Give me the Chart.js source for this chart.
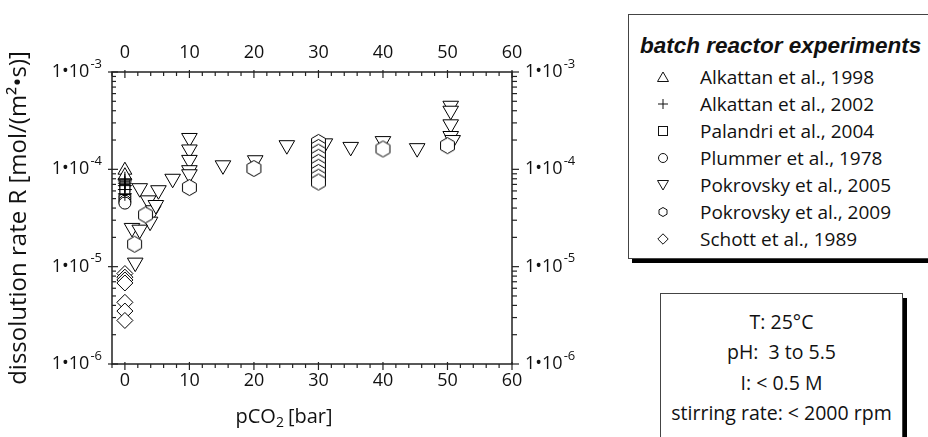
<!DOCTYPE html>
<html>
<head>
<meta charset="utf-8">
<script src="https://cdn.jsdelivr.net/npm/chart.js@4.4.1/dist/chart.umd.min.js"></script>
<style>
  html, body { margin: 0; overflow: hidden; background: #fff; }
  #page { position: relative; width: 928px; height: 437px; overflow: hidden; font-family: "Open Sans", sans-serif; color: #111; }
  #plot { position: absolute; left: 0; top: 0; width: 620px; height: 437px; }
  .legend { position: absolute; left: 628px; top: 14px; width: 380px; height: 243px; border: 1px solid #444; border-right: 0; background: #fff; }
  .legend-shadow { position: absolute; left: 632px; top: 258px; width: 400px; height: 5px; background: #000; }
  .legend h3 { margin: 0; position: absolute; left: 11px; top: 18px; font: bold italic 22.5px/26px "Liberation Sans", Arial, sans-serif; white-space: nowrap; }
  .item { position: absolute; left: 0; height: 26px; line-height: 26px; font-size: 19px; }
  .item svg { position: absolute; left: 28px; top: 7px; }
  .item span { position: absolute; left: 71px; white-space: nowrap; }
  .info { position: absolute; left: 660px; top: 293px; width: 241px; height: 170px; border: 1px solid #444; background: #fff; box-shadow: 4px 5px 0 #000; text-align: center; font-size: 19.5px; }
  .info div { position: absolute; left: 0; right: 0; line-height: 26px; white-space: nowrap; }
</style>
</head>
<body>
<div id="page">
  <div id="plot"><canvas id="chart" width="620" height="437"></canvas></div>

  <div class="legend-shadow"></div>
  <div class="legend" id="legend"><h3>batch reactor experiments</h3></div>

  <div class="info">
    <div style="top:15px">T: 25°C</div>
    <div style="top:45px">pH:&nbsp; 3 to 5.5</div>
    <div style="top:76px">I: &lt; 0.5 M</div>
    <div style="top:106px">stirring rate: &lt; 2000 rpm</div>
  </div>
</div>

<script>
// pCO2 [bar] and dissolution rate R [mol/(m2 s)] per study
const alk98P = [0, 0]
const alk98R = [9.8e-5, 8.6e-5]

const alk02P = [0, 0, 0, 0, 0, 0]
const alk02R = [8.0e-5, 7.6e-5, 7.2e-5, 6.8e-5, 6.2e-5, 5.6e-5]

const pal04P = [0, 0, 0]
const pal04R = [7.4e-5, 6.6e-5, 6.2e-5]

const plu78P = [0, 0, 0, 0]
const plu78R = [5.3e-5, 5.0e-5, 4.7e-5, 4.5e-5]

const pok05P = [2.3, 5.2, 7.4, 10, 10, 10, 10, 10, 15.2, 20.2, 25.1, 31, 35, 40, 45.3,
  50.5, 50.5, 50.5, 50.5, 50.8, 1.1, 1.6, 3.6, 4.4, 3.9, 2.3, 4.8]
const pok05R = [6.4e-5, 6.1e-5, 8.0e-5, 2.1e-4, 1.6e-4, 1.25e-4, 9.8e-5, 8.9e-5, 1.1e-4, 1.24e-4, 1.77e-4, 1.85e-4, 1.7e-4, 1.95e-4, 1.65e-4,
  4.5e-4, 4.0e-4, 2.9e-4, 2.2e-4, 2.0e-4, 2.5e-5, 1.1e-5, 4.8e-5, 3.8e-5, 2.9e-5, 2.4e-5, 4.3e-5]

const pok09P = [1.5, 3.2, 10, 20, 30, 30, 30, 30, 30, 30, 30, 30, 30, 40, 50]
const pok09R = [1.7e-5, 3.4e-5, 6.5e-5, 1.02e-4, 1.89e-4, 1.68e-4, 1.5e-4, 1.33e-4, 1.18e-4, 1.05e-4, 9.3e-5, 8.3e-5, 7.4e-5, 1.62e-4, 1.75e-4]

const sch89P = [0, 0, 0, 0, 0, 0, 0]
const sch89R = [8.5e-6, 7.8e-6, 7.3e-6, 6.8e-6, 4.3e-6, 3.5e-6, 2.8e-6]

const studies = ['Alkattan et al., 1998', 'Alkattan et al., 2002', 'Palandri et al., 2004', 'Plummer et al., 1978',
  'Pokrovsky et al., 2005', 'Pokrovsky et al., 2009', 'Schott et al., 1989']

const xTicks = [0, 10, 20, 30, 40, 50, 60]
const decades = [-6, -5, -4, -3]

function points(xs, ys) {
  return xs.map((x, i) => ({ x, y: ys[i] }))
}

function hexagon(r) {
  const c = document.createElement('canvas')
  const s = Math.ceil(2 * r + 3)
  c.width = s
  c.height = s
  const g = c.getContext('2d')
  g.beginPath()
  for (let i = 0; i < 6; i++) {
    const a = Math.PI / 2 + i * Math.PI / 3
    const px = s / 2 + r * Math.cos(a)
    const py = s / 2 + r * Math.sin(a)
    if (i) g.lineTo(px, py)
    else g.moveTo(px, py)
  }
  g.closePath()
  g.fillStyle = '#fff'
  g.fill()
  g.strokeStyle = '#000'
  g.lineWidth = 1
  g.stroke()
  return c
}

const base = { showLine: false, borderColor: '#000', backgroundColor: '#fff', pointBorderWidth: 1 }

const datasets = [
  { ...base, label: studies[0], data: points(alk98P, alk98R), pointStyle: 'triangle', pointRadius: 8, order: 2 },
  { ...base, label: studies[1], data: points(alk02P, alk02R), pointStyle: 'cross', pointRadius: 7, order: 1 },
  { ...base, label: studies[2], data: points(pal04P, pal04R), pointStyle: 'rect', pointRadius: 7, order: 2 },
  { ...base, label: studies[3], data: points(plu78P, plu78R), pointStyle: 'circle', pointRadius: 6, order: 2 },
  { ...base, label: studies[4], data: points(pok05P, pok05R), pointStyle: 'triangle', rotation: 180, pointRadius: 9, order: 3 },
  { ...base, label: studies[5], data: points(pok09P, pok09R), pointStyle: hexagon(8), pointRadius: 8, order: 0 },
  { ...base, label: studies[6], data: points(sch89P, sch89R), pointStyle: 'rectRot', pointRadius: 8, order: 2 }
]

const FONT = '"Open Sans", sans-serif'

// frame, tick marks, exponent labels and axis titles
const frame = {
  id: 'frame',
  afterDraw(chart) {
    const { ctx, chartArea: a, scales } = chart
    const line = (x1, y1, x2, y2) => { ctx.beginPath(); ctx.moveTo(x1, y1); ctx.lineTo(x2, y2); ctx.stroke() }
    ctx.save()
    ctx.strokeStyle = '#222'
    ctx.lineWidth = 1.5
    ctx.strokeRect(a.left, a.top, a.right - a.left, a.bottom - a.top)

    ctx.lineWidth = 1.2
    for (let v = -2; v <= 60; v += 2) {
      const px = scales.x.getPixelForValue(v)
      const major = v % 10 === 0
      line(px, a.bottom - (major ? 2 : 0), px, a.bottom + (major ? 6 : 4))
      line(px, a.top - (major ? 2 : 0), px, a.top + (major ? 6 : 4))
    }
    decades.forEach(e => {
      for (let m = 1; m <= 9; m++) {
        if (e === -3 && m > 1) break
        const py = scales.y.getPixelForValue(m * Math.pow(10, e))
        const major = m === 1
        line(a.left - (major ? 4 : 0), py, a.left + (major ? 6 : 4), py)
        line(a.right, py, a.right + (major ? 7 : 5), py)
      }
    })

    ctx.fillStyle = '#111'
    ctx.textBaseline = 'middle'
    ctx.textAlign = 'left'
    decades.forEach(e => {
      const py = scales.y.getPixelForValue(Math.pow(10, e))
      const exp = String(e)
      ctx.font = '13px ' + FONT
      const ew = ctx.measureText(exp).width
      ctx.font = '18px ' + FONT
      const bw = ctx.measureText('1•10').width
      for (const x0 of [a.left - 11 - ew - bw, a.right + 13]) {
        ctx.font = '18px ' + FONT
        ctx.fillText('1•10', x0, py)
        ctx.font = '13px ' + FONT
        ctx.fillText(exp, x0 + bw + 1, py - 8)
      }
    })

    // y title
    ctx.save()
    ctx.translate(19, (a.top + a.bottom) / 2)
    ctx.rotate(-Math.PI / 2)
    ctx.textAlign = 'center'
    ctx.font = '24px ' + FONT
    ctx.fillText('dissolution rate R [mol/(m²•s)]', 0, 0)
    ctx.restore()

    // x title with subscript
    ctx.font = '20px ' + FONT
    const p1 = 'pCO', p3 = '[bar]'
    const w1 = ctx.measureText(p1).width
    const w3 = ctx.measureText(p3).width
    ctx.font = '14px ' + FONT
    const w2 = ctx.measureText('2').width + 4
    const tx = 284 - (w1 + w2 + w3) / 2
    const ty = 417
    ctx.font = '20px ' + FONT
    ctx.fillText(p1, tx, ty)
    ctx.font = '14px ' + FONT
    ctx.fillText('2', tx + w1, ty + 6)
    ctx.font = '20px ' + FONT
    ctx.fillText(p3, tx + w1 + w2, ty)
    ctx.restore()
  }
}

const xAxis = (position, padding, size) => ({
  type: 'linear',
  position,
  min: -2,
  max: 60,
  grid: { display: false, drawTicks: false },
  border: { display: false },
  afterBuildTicks: s => { s.ticks = xTicks.map(v => ({ value: v })) },
  afterFit: s => { s.height = size },
  ticks: { padding, color: '#111', font: { family: FONT, size: 18 } }
})

const yAxis = (position, size) => ({
  type: 'logarithmic',
  position,
  min: 1e-6,
  max: 1e-3,
  grid: { display: false, drawTicks: false },
  border: { display: false },
  ticks: { display: false },
  afterFit: s => { s.width = size }
})

new Chart(document.getElementById('chart'), {
  type: 'scatter',
  data: { datasets },
  options: {
    responsive: false,
    animation: false,
    layout: { padding: 0 },
    plugins: { legend: { display: false }, tooltip: { enabled: false } },
    scales: {
      x: xAxis('bottom', 6, 73),
      x2: xAxis('top', 8, 72),
      y: yAxis('left', 112),
      y2: yAxis('right', 108)
    }
  },
  plugins: [frame]
})

// legend entries with the same marker shapes
const icons = [
  '<polygon points="6,1 11.5,10.5 0.5,10.5" />',
  '<path d="M6 1V11M1 6H11" />',
  '<rect x="1.5" y="1.5" width="9" height="9" />',
  '<circle cx="6" cy="6" r="4.5" />',
  '<polygon points="0.5,1.5 11.5,1.5 6,11" />',
  '<polygon points="6,1.5 10,3.8 10,8.2 6,10.5 2,8.2 2,3.8" />',
  '<polygon points="6,0.8 11.2,6 6,11.2 0.8,6" />'
]
const legend = document.getElementById('legend')
studies.forEach((name, i) => {
  const row = document.createElement('div')
  row.className = 'item'
  row.style.top = (49 + i * 27) + 'px'
  row.innerHTML = '<svg width="12" height="12" fill="none" stroke="#111" stroke-width="1">' + icons[i] + '</svg><span>' + name + '</span>'
  legend.appendChild(row)
})
</script>
</body>
</html>
